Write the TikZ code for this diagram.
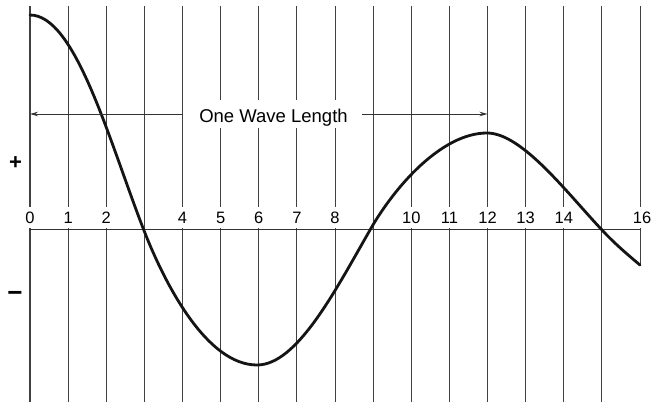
\documentclass[tikz,border=0pt]{standalone}
\usepackage{fontspec}
\setmainfont{Liberation Sans}
\usetikzlibrary{arrows.meta}
\begin{document}
\begin{tikzpicture}[x=1pt,y=-1pt,
  gridline/.style={line width=0.9pt, black!75},
  axisline/.style={line width=0.9pt, black!80},
  wave/.style={line width=2.8pt, black!92, line cap=round, line join=round},
  numlbl/.style={fill=white, anchor=south, font=\fontsize{16.5}{16.5}\selectfont, text height=12pt, text depth=0pt, inner xsep=1pt, inner ysep=4.5pt},
  wavelbl/.style={fill=white, font=\fontsize{18.5}{18.5}\selectfont, text height=17pt, text depth=0pt, inner xsep=0pt, inner ysep=5.5pt},
  signlbl/.style={font=\fontsize{22}{22}\selectfont\bfseries, inner sep=0pt},
  measure/.style={line width=0.8pt, black!80, -{Stealth[length=8pt,width=4.5pt]}}
]
\useasboundingbox (0,0) rectangle (652,407);
\foreach \i in {0,...,15} {
  \coordinate (t\i) at ({30+38.125*\i},6);
  \coordinate (b\i) at ({30+38.125*\i},402);
}
\coordinate (t16) at (640,6);
\coordinate (b16) at (640,265);
\draw[gridline, line width=1.3pt] (t0) -- (b0);
\foreach \i in {1,...,16} { \draw[gridline] (t\i) -- (b\i); }
\coordinate (axL) at (30,229);
\coordinate (axR) at (641,229);
\draw[axisline] (axL) -- (axR);
\foreach \i in {0,1,2,4,5,6,7,8,10,11,12,13,14} {
  \node[numlbl] (n\i) at ({30+38.125*\i},228.5) {\i};
}
\node[numlbl] (n16) at (642,228.5) {16};
\draw[wave] (30,15) .. controls (75,15) and (108,137) .. (143,228)
  .. controls (165,285) and (207,365) .. (257,365)
  .. controls (297,365) and (335,291) .. (370,230)
  .. controls (395,186) and (442,133) .. (487,133)
  .. controls (522,133) and (567,193) .. (602,230)
  .. controls (614,243) and (628,255) .. (640,265);
\node[wavelbl] (wl) at (273.5,114) {One Wave Length};
\coordinate (wlL) at (183,114);
\coordinate (wlR) at (362,114);
\draw[measure] (wlL) -- (t0 |- wlL);
\draw[measure] (wlR) -- (t12 |- wlR);
\node[signlbl] (plus) at (15.5,163) {+};
\node[signlbl, font=\fontsize{26}{26}\selectfont\bfseries] (minus) at (15,296) {−};
\end{tikzpicture}
\end{document}
